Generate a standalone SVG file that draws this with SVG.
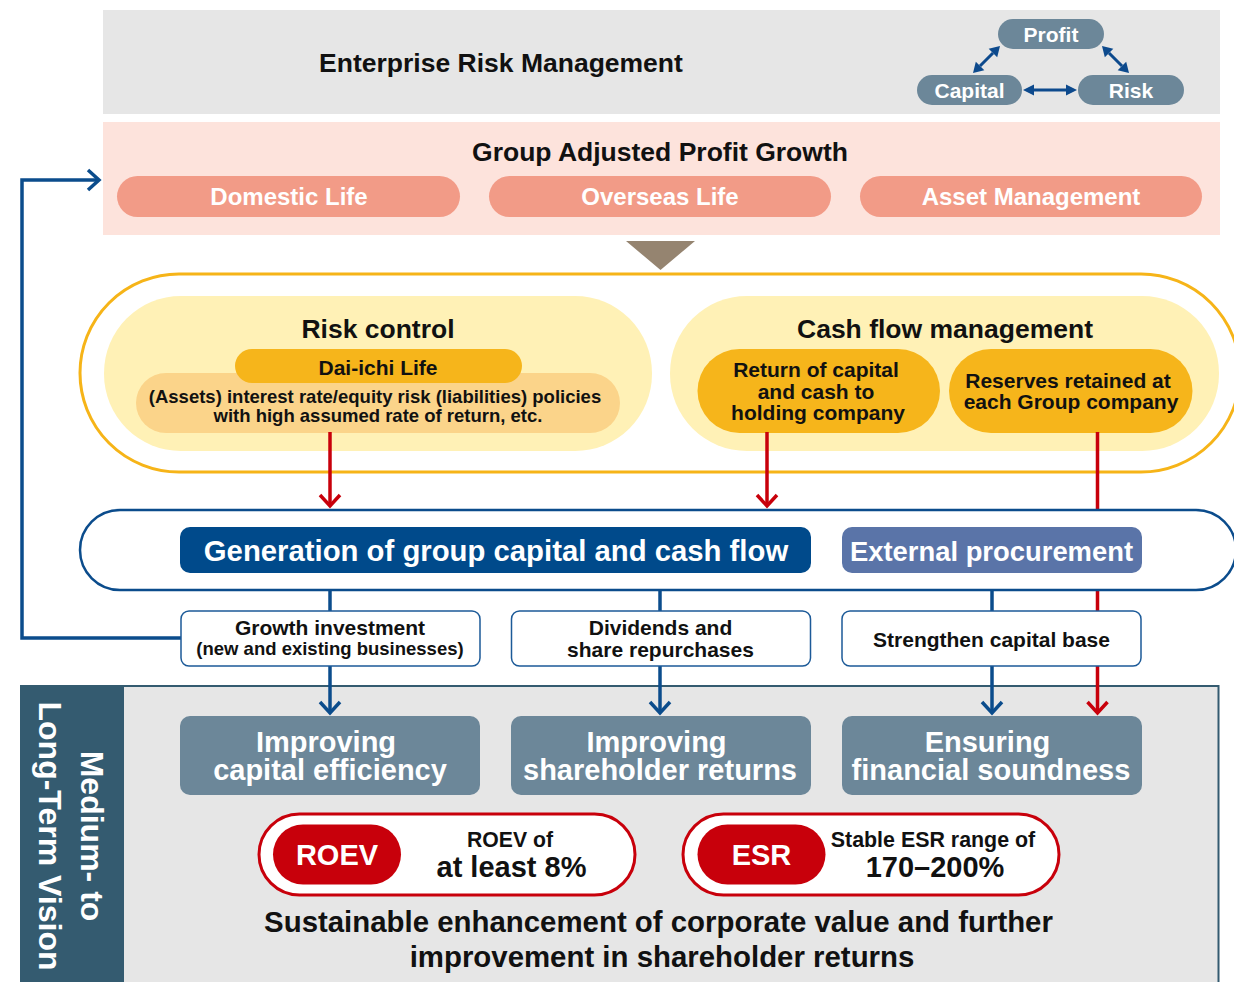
<svg xmlns="http://www.w3.org/2000/svg" width="1234" height="982" viewBox="0 0 1234 982">
<defs>
<style>
.t{font-family:"Liberation Sans",Arial,sans-serif;font-weight:bold;text-anchor:middle}
.w{fill:#ffffff}
.k{fill:#111111}
.slate{fill:#6c8799}
.salmon{fill:#f29b87}
.gold{fill:#f6b51b}
.wbox{fill:#ffffff;stroke:#1c5a98;stroke-width:1.5}
.blueln{stroke:#0b4c8c;stroke-width:3.5;fill:none}
.redln{stroke:#c8000b;stroke-width:3.5;fill:none}
.redpill{fill:#ffffff;stroke:#c8000b;stroke-width:3}
</style>
<marker id="chevB" markerUnits="userSpaceOnUse" markerWidth="30" markerHeight="30" viewBox="-15 -15 30 30" refX="0" refY="0" orient="auto" overflow="visible">
<path d="M-11,-10 L0,0 L-11,10" fill="none" stroke="#0b4c8c" stroke-width="3.5"/>
</marker>
<marker id="chevR" markerUnits="userSpaceOnUse" markerWidth="30" markerHeight="30" viewBox="-15 -15 30 30" refX="0" refY="0" orient="auto" overflow="visible">
<path d="M-11,-10 L0,0 L-11,10" fill="none" stroke="#c8000b" stroke-width="3.5"/>
</marker>
</defs>
<rect width="1234" height="982" fill="#ffffff"/>

<g id="erm">
<rect x="103" y="10" width="1117" height="104" fill="#e6e6e6"/>
<text class="t k" x="501" y="72" font-size="26.5">Enterprise Risk Management</text>
</g>
<g id="profit"><rect x="998" y="19" width="106" height="30" rx="15" class="slate"/><text class="t w" x="1051" y="41.5" font-size="21">Profit</text></g>
<g id="capital"><rect x="917" y="75" width="105" height="30" rx="15" class="slate"/><text class="t w" x="969.5" y="97.5" font-size="21">Capital</text></g>
<g id="risk"><rect x="1078" y="75" width="106" height="30" rx="15" class="slate"/><text class="t w" x="1131" y="97.5" font-size="21">Risk</text></g>
<g id="erm-arrows" fill="#0d4a8d" stroke="#0d4a8d">
<line x1="980" y1="66" x2="993" y2="53" stroke-width="3"/>
<polygon points="1000,46 997.2,57.3 988.7,48.8" stroke="none"/>
<polygon points="973,73 984.3,70.2 975.8,61.7" stroke="none"/>
<line x1="1109" y1="53" x2="1122" y2="66" stroke-width="3"/>
<polygon points="1129,73 1117.7,70.2 1126.2,61.7" stroke="none"/>
<polygon points="1102,46 1104.8,57.3 1113.3,48.8" stroke="none"/>
<line x1="1033" y1="90" x2="1067" y2="90" stroke-width="3"/>
<polygon points="1023,90 1034,84.5 1034,95.5" stroke="none"/>
<polygon points="1077,90 1066,84.5 1066,95.5" stroke="none"/>
</g>

<g id="profit-growth">
<rect x="103" y="122" width="1117" height="113" fill="#fde3dc"/>
<text class="t k" x="660" y="161" font-size="26.5">Group Adjusted Profit Growth</text>
</g>
<g id="domestic"><rect x="117" y="176" width="343" height="41" rx="20.5" class="salmon"/><text class="t w" x="289" y="205" font-size="24">Domestic Life</text></g>
<g id="overseas"><rect x="489" y="176" width="342" height="41" rx="20.5" class="salmon"/><text class="t w" x="660" y="205" font-size="24">Overseas Life</text></g>
<g id="asset"><rect x="860" y="176" width="342" height="41" rx="20.5" class="salmon"/><text class="t w" x="1031" y="205" font-size="24">Asset Management</text></g>

<polygon id="down-triangle" points="626,241 695,241 660.5,270" fill="#958470"/>

<g id="management-frame">
<rect x="80" y="274" width="1160" height="198" rx="99" fill="#ffffff" stroke="#f6b418" stroke-width="3"/>
</g>
<g id="risk-control">
<rect x="104" y="296" width="548" height="155" rx="77" fill="#fff1b6"/>
<text class="t k" x="378" y="338" font-size="26.5">Risk control</text>
<rect x="136" y="373" width="484" height="60" rx="30" fill="#fbd48a"/>
<text class="t k" x="375" y="402.5" font-size="18.5">(Assets) interest rate/equity risk (liabilities) policies</text>
<text class="t k" x="378" y="421.5" font-size="18.5">with high assumed rate of return, etc.</text>
</g>
<g id="daiichi">
<rect x="235" y="349" width="287" height="34" rx="17" class="gold"/>
<text class="t k" x="378" y="374.5" font-size="21">Dai-ichi Life</text>
</g>
<g id="cashflow">
<rect x="670" y="296" width="549" height="155" rx="77" fill="#fff1b6"/>
<text class="t k" x="945" y="338" font-size="26.5">Cash flow management</text>
</g>
<g id="return-capital">
<rect x="697.5" y="349" width="242.5" height="84" rx="42" class="gold"/>
<text class="t k" x="816" y="377" font-size="21">Return of capital</text>
<text class="t k" x="816" y="398.5" font-size="21">and cash to</text>
<text class="t k" x="818" y="419.5" font-size="21">holding company</text>
</g>
<g id="reserves">
<rect x="949" y="349" width="243.5" height="84" rx="42" class="gold"/>
<text class="t k" x="1068" y="388" font-size="21">Reserves retained at</text>
<text class="t k" x="1071" y="409" font-size="21">each Group company</text>
</g>

<g id="vision-panel">
<rect x="124" y="686" width="1094" height="296" fill="#e6e6e6"/>
<rect x="20" y="686" width="104" height="296" fill="#345b70"/>
<path d="M20,686 H1218.5 V982" fill="none" stroke="#345b70" stroke-width="2"/>
<g transform="translate(0,836) rotate(90)">
<text class="t w" x="0" y="-81" font-size="32">Medium- to</text>
<text class="t w" x="0" y="-39" font-size="32">Long-Term Vision</text>
</g>
</g>

<g id="connectors">
<path class="blueln" d="M181,638 H22 V180 H99" marker-end="url(#chevB)"/>
<line class="redln" x1="330" y1="432" x2="330" y2="506" marker-end="url(#chevR)"/>
<line class="redln" x1="767" y1="432" x2="767" y2="506" marker-end="url(#chevR)"/>
<line class="redln" x1="1097.5" y1="432" x2="1097.5" y2="713" marker-end="url(#chevR)"/>
<line class="blueln" x1="330" y1="590" x2="330" y2="713" marker-end="url(#chevB)"/>
<line class="blueln" x1="660" y1="590" x2="660" y2="713" marker-end="url(#chevB)"/>
<line class="blueln" x1="992" y1="590" x2="992" y2="713" marker-end="url(#chevB)"/>
</g>

<g id="capital-frame">
<rect x="80" y="510" width="1156" height="80" rx="40" fill="#ffffff" stroke="#0b4c8c" stroke-width="2.5"/>
</g>
<g id="generation">
<rect x="180" y="527" width="631" height="46" rx="10" fill="#004a8b"/>
<text class="t w" x="496" y="560.5" font-size="29.3">Generation of group capital and cash flow</text>
</g>
<g id="external">
<rect x="842" y="527" width="300" height="46" rx="10" fill="#5a74a8"/>
<text class="t w" x="991.5" y="560.5" font-size="27.4">External procurement</text>
</g>

<g id="growth">
<rect x="181" y="611" width="299" height="55" rx="8" class="wbox"/>
<text class="t k" x="330" y="635" font-size="21">Growth investment</text>
<text class="t k" x="330" y="654.5" font-size="18.5">(new and existing businesses)</text>
</g>
<g id="dividends">
<rect x="511.5" y="611" width="299" height="55" rx="8" class="wbox"/>
<text class="t k" x="660.5" y="635" font-size="21">Dividends and</text>
<text class="t k" x="660.5" y="657" font-size="21">share repurchases</text>
</g>
<g id="strengthen">
<rect x="842" y="611" width="299" height="55" rx="8" class="wbox"/>
<text class="t k" x="991.5" y="647" font-size="21">Strengthen capital base</text>
</g>

<g id="cap-eff">
<rect x="180" y="716" width="300" height="79" rx="10" class="slate"/>
<text class="t w" x="326" y="751.5" font-size="29">Improving</text>
<text class="t w" x="330" y="780" font-size="29">capital efficiency</text>
</g>
<g id="sh-returns">
<rect x="511" y="716" width="300" height="79" rx="10" class="slate"/>
<text class="t w" x="656.5" y="751.5" font-size="29">Improving</text>
<text class="t w" x="660" y="780" font-size="29">shareholder returns</text>
</g>
<g id="soundness">
<rect x="842" y="716" width="300" height="79" rx="10" class="slate"/>
<text class="t w" x="987.5" y="751.5" font-size="29">Ensuring</text>
<text class="t w" x="991" y="780" font-size="29">financial soundness</text>
</g>

<g id="roev">
<rect x="259" y="814" width="376" height="81" rx="40.5" class="redpill"/>
<rect x="273" y="824.5" width="128" height="60" rx="30" fill="#c8000b"/>
<text class="t w" x="337" y="864.5" font-size="29">ROEV</text>
<text class="t k" x="510" y="847" font-size="21.2">ROEV of</text>
<text class="t k" x="511.5" y="877" font-size="29">at least 8%</text>
</g>
<g id="esr">
<rect x="683" y="814" width="376" height="81" rx="40.5" class="redpill"/>
<rect x="697.5" y="824.5" width="128" height="60" rx="30" fill="#c8000b"/>
<text class="t w" x="761.5" y="864.5" font-size="29">ESR</text>
<text class="t k" x="933" y="847" font-size="21.4">Stable ESR range of</text>
<text class="t k" x="935" y="877" font-size="29">170–200%</text>
</g>

<g id="goal">
<text class="t k" x="658.5" y="932" font-size="29.4">Sustainable enhancement of corporate value and further</text>
<text class="t k" x="662" y="967" font-size="29.4">improvement in shareholder returns</text>
</g>
</svg>
